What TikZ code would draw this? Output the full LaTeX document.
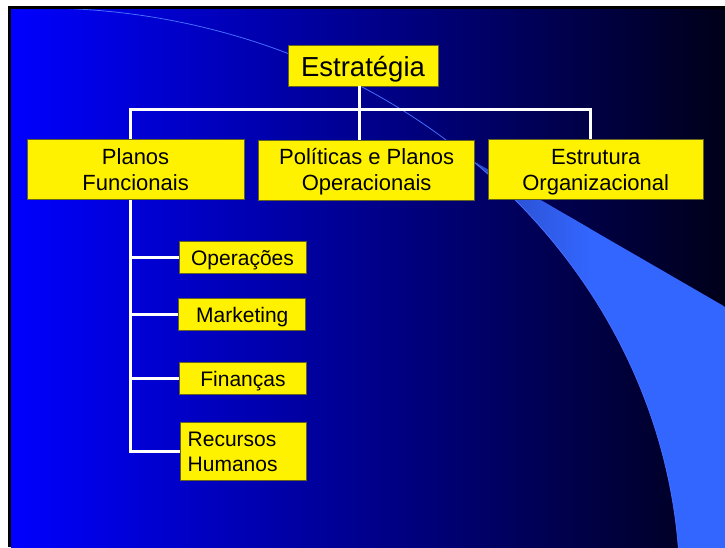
\documentclass[tikz,border=0pt]{standalone}
\usepackage{fontspec}
\setmainfont{Liberation Sans}
\newcommand{\twolines}[2]{\rule{0pt}{20pt}#1\\#2\rule[-5pt]{0pt}{5pt}}

\begin{document}
\begin{tikzpicture}[x=1pt, y=-1pt,
   box/.style={draw=boxline, line width=0.8pt, fill=yellow, text=black, inner sep=0pt, align=center},
   mainbox/.style={box, minimum width=216pt, minimum height=60pt, font=\fontsize{22}{26}\selectfont},
   subbox/.style={box, minimum width=127pt, minimum height=32pt, font=\fontsize{21}{25}\selectfont},
   link/.style={draw=white, line width=3pt}]
   \definecolor{slideblue}{rgb}{0,0,1}
   \definecolor{slidemid}{RGB}{0,0,165}
   \definecolor{slidedark}{RGB}{0,0,25}
   \definecolor{wedgeblue}{RGB}{51,102,255}
   \definecolor{wedgedark}{RGB}{40,72,190}
   \definecolor{curveblue}{RGB}{70,110,255}
   \definecolor{boxline}{RGB}{100,100,30}
   \useasboundingbox (0,0) rectangle (725,547);
   % slide background
   \fill[white] (0,0) rectangle (725,547);
   \fill[black] (8,6) rectangle (725,547);
   \shade[left color=slideblue, middle color=slidemid, right color=slidedark] (11,9) rectangle (725,547);
   \begin{scope}
     \clip (11,9) rectangle (725,547);
     \begin{scope}
       \clip plot[domain=-47.5:0, samples=60, variable=\t] ({40+640*cos(\t)}, {589+581*sin(\t)})
         -- (760,589) -- (760,327) -- cycle;
       \fill[wedgeblue] (460,150) rectangle (760,600);
       \shade[left color=wedgedark, right color=wedgeblue] (472,150) rectangle (590,600);
     \end{scope}
     \draw[curveblue, line width=0.8pt]
       plot[domain=-90:-2, samples=90, variable=\t] ({40+640*cos(\t)}, {589+581*sin(\t)});
   \end{scope}
   % boxes
   \node[box, minimum width=150pt, minimum height=41pt, text height=27pt, text depth=5.8pt,
     font=\fontsize{27.5}{33}\selectfont] (strat) at (363,65.4) {Estratégia};
   \node[mainbox, minimum width=217pt] (plan) at (135.6,169.5) {\twolines{Planos}{Funcionais}};
   \node[mainbox] (pol) at (366.6,170.2) {\twolines{Políticas e Planos}{Operacionais}};
   \node[mainbox, minimum width=215pt] (estr) at (595.7,169.5) {\twolines{Estrutura}{Organizacional}};
   \node[subbox, text height=20.6pt, text depth=4.4pt] (ope) at (242.5,257.5) {Operações};
   \node[subbox, text height=20.6pt, text depth=4.4pt] (mkt) at (242.3,314.6) {Marketing};
   \node[subbox, text height=20.6pt, text depth=4.4pt] (fin) at (243,378.6) {Finanças};
   \node[subbox, minimum width=126pt, minimum height=58pt, text width=111pt, align=left]
     (rh) at (243.2,451.8) {\twolines{Recursos}{Humanos}};
   % connectors
   \coordinate (busL) at (130,109);
   \coordinate (busM) at (359,109);
   \coordinate (busR) at (590,109);
   \draw[link] (busL |- plan.north) -- (busL) -- (busR) -- (busR |- estr.north);
   \draw[link] (busM |- strat.south) -- (busM |- pol.north);
   \draw[link] (busL |- plan.south) -- (busL |- rh.west) -- (rh.west);
   \foreach \n in {ope, mkt, fin}
     \draw[link] (busL |- \n.west) -- (\n.west);
\end{tikzpicture}
\end{document}
